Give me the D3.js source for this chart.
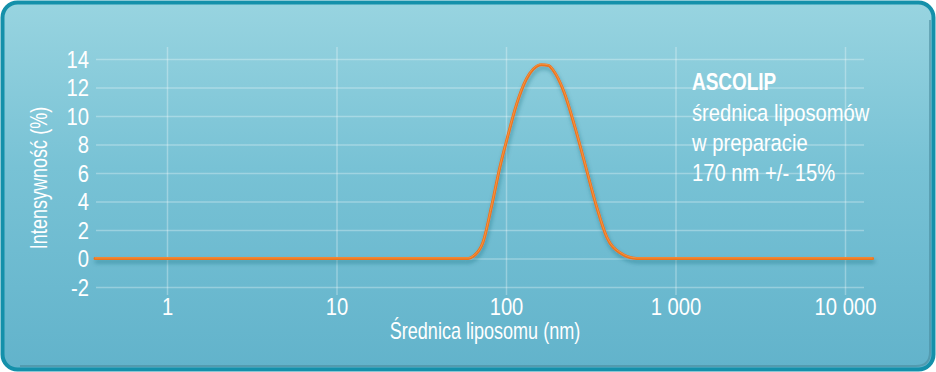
<!DOCTYPE html>
<html>
<head>
<meta charset="utf-8">
<script src="https://cdn.jsdelivr.net/npm/d3@7"></script>
<style>
  html, body { margin: 0; padding: 0; background: #ffffff; }
  svg { display: block; }
  text { font-family: "Liberation Sans", Arial, sans-serif; fill: #ffffff; }
</style>
</head>
<body>
<svg id="chart" width="936" height="372"></svg>
<script>
// dane (średnica w nm, intensywność w %)
const diameters = [0.376, 60, 64, 73, 82, 92, 102, 116, 132, 145, 162, 178, 190, 218, 261, 299, 343, 393, 471, 590, 14560];
const intensity = [0, 0, 0.15, 1.1, 3.6, 6.4, 8.5, 10.9, 12.6, 13.3, 13.6, 13.55, 13.2, 11.8, 8.8, 6.2, 3.6, 1.5, 0.4, 0, 0];

const xTicks = [1, 10, 100, 1000, 10000];
const xTickLabels = ['1', '10', '100', '1 000', '10 000'];
const yTicks = [-2, 0, 2, 4, 6, 8, 10, 12, 14];

const noteTitle = 'ASCOLIP';
const noteLines = ['średnica liposomów', 'w preparacie', '170 nm +/- 15%'];

const W = 936, H = 372;
const NARROW = 0.86; // wąski krój - ścieśnienie w poziomie
const svg = d3.select('#chart');
const defs = svg.append('defs');

// tło panelu
const bg = defs.append('linearGradient').attr('id', 'bg')
    .attr('x1', 0).attr('y1', 0).attr('x2', 0).attr('y2', 1);
bg.append('stop').attr('offset', '0%').attr('stop-color', '#98d4e0');
bg.append('stop').attr('offset', '45%').attr('stop-color', '#78c2d5');
bg.append('stop').attr('offset', '100%').attr('stop-color', '#62b3cb');

const shadow = defs.append('filter').attr('id', 'shadow')
    .attr('x', '-5%').attr('y', '-20%').attr('width', '110%').attr('height', '140%');
shadow.append('feDropShadow')
    .attr('dx', 1).attr('dy', 3).attr('stdDeviation', 2)
    .attr('flood-color', '#1f5a6c').attr('flood-opacity', 0.45);

svg.append('rect')
    .attr('x', 2.5).attr('y', 2.5).attr('width', W - 5).attr('height', H - 5)
    .attr('rx', 15)
    .attr('fill', 'url(#bg)')
    .attr('stroke', '#1490aa').attr('stroke-width', 4);

// ciemniejsza krawędź wewnętrzna (dół / prawo)
svg.append('path')
    .attr('d', `M${W - 6},20 L${W - 6},${H - 20} Q${W - 6},${H - 6} ${W - 20},${H - 6} L20,${H - 6}`)
    .attr('fill', 'none').attr('stroke', '#4a8a9c').attr('stroke-opacity', 0.6).attr('stroke-width', 2);

const x = d3.scaleLog().domain([1, 10000]).range([167, 845]);
const y = d3.scaleLinear().domain([-2, 14]).range([287, 59]);

const gridLeft = 96, gridRight = 864, gridTop = 47, gridBottom = 295;

// oś Y z liniami siatki
const yAxis = svg.append('g')
    .attr('transform', `translate(${gridLeft},0)`)
    .call(d3.axisLeft(y).tickValues(yTicks).tickFormat(d => String(d))
        .tickSize(-(gridRight - gridLeft)).tickPadding(7));
yAxis.select('.domain').remove();
yAxis.selectAll('line').attr('stroke', '#ffffff').attr('stroke-opacity', 0.3).attr('stroke-width', 1.5);
yAxis.selectAll('text')
    .attr('font-size', 23.5).attr('fill', '#ffffff').attr('dy', '0.36em')
    .attr('x', -7 / NARROW)
    .attr('transform', `scale(${NARROW},1)`);

// oś X z liniami siatki
const xAxis = svg.append('g')
    .attr('transform', `translate(0,${gridBottom})`)
    .call(d3.axisBottom(x).tickValues(xTicks).tickFormat((d, i) => xTickLabels[i]).tickSize(-(gridBottom - gridTop)));
xAxis.select('.domain').remove();
xAxis.selectAll('line').attr('stroke', '#ffffff').attr('stroke-opacity', 0.3).attr('stroke-width', 1.5);
xAxis.selectAll('text')
    .attr('font-size', 23.5).attr('fill', '#ffffff').attr('y', 19.5).attr('dy', 0)
    .attr('transform', `scale(${NARROW},1)`);

// krzywa rozkładu
const pts = diameters.map((d, i) => [x(d), y(intensity[i])]);
const line = d3.line().curve(d3.curveMonotoneX);

svg.append('path')
    .attr('d', line(pts))
    .attr('fill', 'none')
    .attr('stroke', '#ec741a')
    .attr('stroke-width', 3)
    .attr('stroke-linejoin', 'round')
    .attr('stroke-linecap', 'round')
    .attr('filter', 'url(#shadow)');
svg.append('path')
    .attr('d', line(pts))
    .attr('fill', 'none')
    .attr('stroke', '#f8a860')
    .attr('stroke-width', 1)
    .attr('stroke-opacity', 0.6)
    .attr('transform', 'translate(0,-0.6)');

// tytuły osi
svg.append('g')
    .attr('transform', 'translate(485,339) scale(0.785,1)')
    .append('text')
    .attr('text-anchor', 'middle')
    .attr('font-size', 23)
    .text('Średnica liposomu (nm)');

svg.append('g')
    .attr('transform', 'translate(47,178) rotate(-90) scale(0.785,1)')
    .append('text')
    .attr('text-anchor', 'middle')
    .attr('font-size', 23)
    .text('Intensywność (%)');

// opis
svg.append('g')
    .attr('transform', 'translate(692,90) scale(0.79,1)')
    .append('text')
    .attr('font-size', 24).attr('font-weight', 'bold')
    .text(noteTitle);

const note = svg.append('g').attr('transform', `translate(692,0) scale(${NARROW},1)`);
note.selectAll('text.line')
    .data(noteLines)
    .enter()
    .append('text')
    .attr('class', 'line')
    .attr('x', 0)
    .attr('y', (d, i) => 121 + i * 30)
    .attr('font-size', 23.5)
    .text(d => d);
</script>
</body>
</html>
